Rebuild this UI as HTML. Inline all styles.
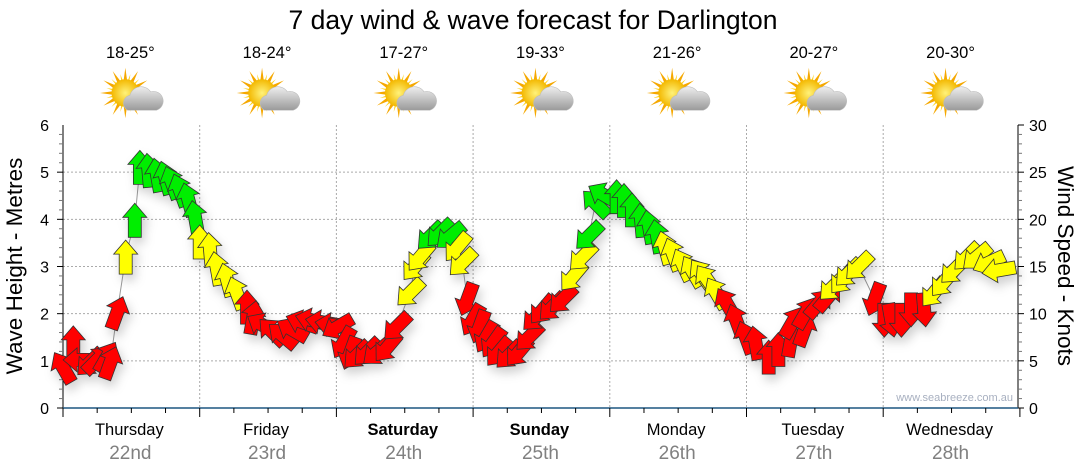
<!DOCTYPE html>
<html><head><meta charset="utf-8"><style>
body{margin:0;background:#fff;}
svg{display:block;font-family:"Liberation Sans",Verdana,sans-serif;}
</style></head><body>
<svg id="chart" width="1080" height="475" viewBox="0 0 1080 475">
<defs>
<filter id="sh" x="-50%" y="-50%" width="200%" height="200%"><feDropShadow dx="3" dy="6" stdDeviation="5" flood-color="#000" flood-opacity="0.18"/></filter>
<radialGradient id="sunG"><stop offset="0" stop-color="#fff27a"/><stop offset="1" stop-color="#f3b800"/></radialGradient>
<linearGradient id="cloudG" x1="0" y1="0" x2="0" y2="1"><stop offset="0" stop-color="#eeeeee"/><stop offset="1" stop-color="#9a9a9a"/></linearGradient>
</defs>
<text x="533" y="29" font-size="26.5" text-anchor="middle" fill="#000">7 day wind &amp; wave forecast for Darlington</text>
<g id="head"></g>
<g id="grid"></g>
<g id="axes"></g>
<text x="1013" y="401" font-size="11" text-anchor="end" fill="#a8b0c0">www.seabreeze.com.au</text>
<polyline id="line" fill="none" stroke="#999" stroke-width="1"/>
<g id="arrows" filter="url(#sh)"></g>
<text transform="translate(22,266) rotate(-90)" font-size="22.5" text-anchor="middle">Wave Height - Metres</text>
<text transform="translate(1058,266) rotate(90)" font-size="22.5" text-anchor="middle">Wind Speed - Knots</text>
</svg>
<script>
const days=["Thursday","Friday","Saturday","Sunday","Monday","Tuesday","Wednesday"];
const dates=["22nd","23rd","24th","25th","26th","27th","28th"];
const temps=["18-25°","18-24°","17-27°","19-33°","21-26°","20-27°","20-30°"];
const boldDays=[false,false,true,true,false,false,false];
const hours=[0,1.8,3,4.7,6,7.7,8.3,9.5,11,12.6,13.5,15,16.5,18,19.1,20.5,22,23.2,
24,25.8,27,28.8,30.5,32.3,33.4,35,36.7,38.5,40.2,42,43.7,45.5,47.2,
48.2,49.2,50.4,51.6,53.4,55.1,56.9,58.6,60.9,61.8,62.7,64.5,66.2,68,69.2,70.1,71,71.9,73.1,
74.3,75.5,76.5,78.3,80,81.8,83,84.2,85.9,87.7,89.5,91.2,92.3,93.5,
94.9,97.2,98.5,99.9,101.5,102.9,104.3,105.7,107.1,108.8,110.5,
112.1,113.1,114.7,116.5,118.2,119.9,121.6,123.9,125.6,127.8,130.2,128.1,130.4,132.7,134.4,
135.1,136.9,137.9,139.7,142.5,144.2,145.4,147.2,148.9,151.2,152.9,154.6,156.4,158.7,160.4,162.5,164.3];
const speeds=[4.3,6.9,5.1,4.8,5.1,5.4,4.8,10.1,16,19.9,25.5,25.2,24.7,24.4,23.9,23.1,22.1,20.2,
17.6,16.8,14.8,13.6,12.2,10.7,9.6,8.8,8.1,7.7,8.3,9.1,9.3,9.1,8.8,
8.6,6.9,5.8,5.6,5.9,5.9,6.4,8.6,12.2,15,16,18.2,18.5,18.2,17,15.4,11.5,9.3,8.6,
7.5,6.9,5.9,5.6,5.9,7.5,9.6,10.4,10.7,11.5,13.9,16,18.2,21.7,
22.6,22.4,22,21,19.9,19.2,18.2,17,16.3,15.2,14.5,
14.2,13.6,12.2,11.1,9.3,7.5,6.9,5.4,6.2,7.2,8.3,9.1,10.1,11.1,11.8,
12.8,13.6,14.3,15,11.5,9.3,9.3,9.3,10.4,10.4,12.2,13.3,14.6,16,16,15.4,14.6];
const dirs=[-30,0,-90,-135,45,30,20,20,0,0,0,-5,-10,-15,-20,-20,-15,-10,
0,-5,-10,-15,-20,0,10,-60,-45,-50,-60,-70,-75,-80,-80,
-120,-150,-160,-135,-135,-130,-140,-135,-135,-140,-140,-135,-135,-130,-140,-135,-160,-150,-160,
-150,-145,-140,-135,-140,-135,-135,-140,-135,-135,-140,-135,-135,-45,
-60,0,0,0,-5,-10,-10,-15,-20,-25,-30,
-35,-35,-30,-30,-20,-20,-10,0,0,10,20,30,30,40,40,
-135,-140,-135,-135,-160,180,170,180,180,175,-140,-140,-135,-135,-130,-115,-100];
const X0=63,DW=136.7,Y0=408,YT=125;
const xs=h=>X0+h*DW/24;
const yk=k=>Y0-k*(Y0-YT)/30;
const ym=m=>Y0-m*(Y0-YT)/6;
const NS="http://www.w3.org/2000/svg";
function mk(t,a,p){const e=document.createElementNS(NS,t);for(const k in a)e.setAttribute(k,a[k]);(p||document.getElementById('chart')).appendChild(e);return e;}
const head=document.getElementById('head'),grid=document.getElementById('grid'),axes=document.getElementById('axes');
days.forEach((d,i)=>{
 const cx=X0+DW*(i+0.5);
 const t=mk('text',{x:cx-1,y:58,'font-size':16.5,'text-anchor':'middle'},head);t.textContent=temps[i];
 
 
 const g=mk('g',{transform:`translate(${cx-6},93) scale(1.15)`},head);
 
 
 for(let a=0;a<360;a+=30){mk('polygon',{points:'-3,0 3,0 0,-22',fill:'#f5a800',transform:`rotate(${a})`},g);}
 for(let a=15;a<360;a+=30){mk('polygon',{points:'-2,0 2,0 0,-17',fill:'#ffd21a',transform:`rotate(${a})`},g);}
 mk('circle',{r:12,fill:'url(#sunG)'},g);
 mk('path',{d:'M2,15 a7,7 0 0 1 2,-13 a10,10 0 0 1 18,-3 a8,8 0 0 1 5,16 z',fill:'url(#cloudG)',stroke:'#bbb','stroke-width':0.5},g);
});
for(let m=1;m<=5;m++){const l=mk('line',{x1:X0,x2:1018,y1:ym(m),y2:ym(m),stroke:'#aaa','stroke-dasharray':'2,2'},grid);
 
 }
for(let i=1;i<7;i++){const x=X0+DW*i;const l=mk('line',{x1:x,x2:x,y1:YT,y2:Y0,stroke:'#aaa','stroke-dasharray':'2,2'},grid);
 
 }
mk('line',{x1:X0,x2:X0,y1:YT,y2:Y0,stroke:'#000'},axes);
mk('line',{x1:1018,x2:1018,y1:YT,y2:Y0,stroke:'#000'},axes);
mk('line',{x1:X0,x2:1018,y1:Y0,y2:Y0,stroke:'#1d5680','stroke-width':1.5},axes);
for(let m=0;m<=6;m+=0.2){const y=ym(m);const maj=Math.abs(m-Math.round(m))<0.01;
 mk('line',{x1:X0-(maj?6:4),x2:X0,y1:y,y2:y,stroke:maj?'#000':'#777'},axes);}
for(let m=0;m<=6;m++){const t=mk('text',{x:49,y:ym(m)+6,'font-size':16,'text-anchor':'end'},axes);t.textContent=m;
 
 }
for(let k=0;k<=30;k++){const y=yk(k);const maj=k%5==0;
 mk('line',{x1:1018,x2:1018+(maj?6:4),y1:y,y2:y,stroke:maj?'#000':'#777'},axes);}
for(let k=0;k<=30;k+=5){const t=mk('text',{x:1029,y:yk(k)+6,'font-size':16},axes);t.textContent=k;
 
 }
for(let q=0;q<=28;q++){const x=X0+q*DW/4;const maj=q%4==0;
 mk('line',{x1:x,x2:x,y1:Y0,y2:Y0+(maj?9:5),stroke:'#000'},axes);}
days.forEach((d,i)=>{const cx=X0+DW*(i+0.5);
 const t=mk('text',{x:cx-2,y:435,'font-size':16.5,'text-anchor':'middle','font-weight':boldDays[i]?'bold':'normal'},axes);t.textContent=d;
 
 
 const t2=mk('text',{x:cx-1,y:459,'font-size':19,'text-anchor':'middle',fill:'#808080'},axes);t2.textContent=dates[i];
 
 });
document.getElementById('line').setAttribute('points',hours.map((h,i)=>xs(h)+','+yk(speeds[i])).join(' '));
const ag=document.getElementById('arrows');
const col=k=>k>=18?'#00ee00':k>=12?'#ffff00':'#ff0000';
hours.forEach((h,i)=>{
 const p=mk('polygon',{points:'0,-17 12,-3 6.5,-3 6.5,17 -6.5,17 -6.5,-3 -12,-3',fill:col(speeds[i]),stroke:'#333','stroke-width':0.8,
  transform:`translate(${xs(h).toFixed(1)},${yk(speeds[i]).toFixed(1)}) rotate(${dirs[i]})`},ag);
 
 
});
</script>
</body></html>
